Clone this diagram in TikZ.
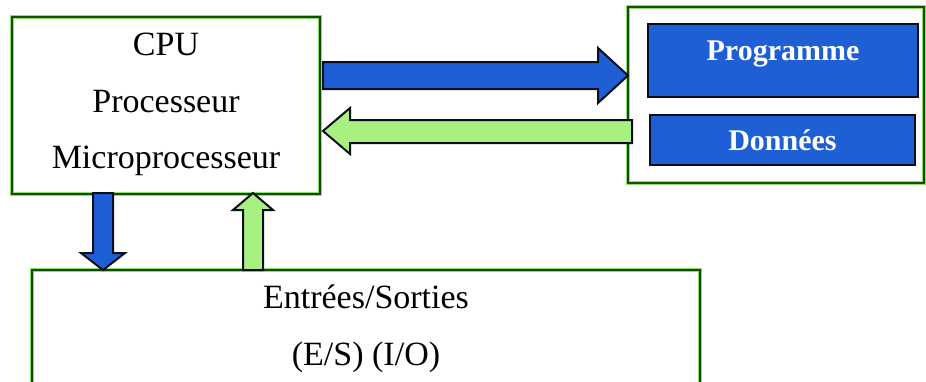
\documentclass[tikz,border=0pt]{standalone}
\usepackage{fontspec}
\setmainfont{Liberation Serif}
\definecolor{blueFill}{RGB}{31,95,214}
\definecolor{greenFill}{RGB}{168,240,128}
\definecolor{boxDark}{RGB}{22,72,14}
\definecolor{boxHalo}{RGB}{140,228,100}
\definecolor{edgeDark}{RGB}{8,14,30}
\begin{document}
\begin{tikzpicture}[x=1pt,y=-1pt,
  greenbox/.style={rectangle,draw=boxHalo,double=boxDark,double distance=2.2pt,line width=0.6pt,fill=white,inner sep=0pt},
  memitem/.style={rectangle,draw=edgeDark,line width=2pt,fill=blueFill,inner sep=0pt},
  bigtext/.style={font=\fontsize{34}{40}\selectfont,anchor=base,inner sep=0pt},
  memtext/.style={font=\fontsize{30}{36}\selectfont\bfseries,text=white,anchor=base,inner sep=0pt},
  bluearrow/.style={fill=blueFill,draw=edgeDark,line width=2pt,line join=miter},
  greenarrow/.style={fill=greenFill,draw=edgeDark,line width=2pt,line join=miter}]
\useasboundingbox (0,0) rectangle (926,381);
\clip (0,0) rectangle (926,381);
% boxes
\node[greenbox,minimum width=308pt,minimum height=177pt] (cpu) at (166,105.5) {};
\node[greenbox,minimum width=296pt,minimum height=176pt] (mem) at (776,95) {};
\node[memitem,minimum width=270pt,minimum height=73pt] (prog) at (783,60.5) {};
\node[memitem,minimum width=265pt,minimum height=50pt] (data) at (782.5,140) {};
\node[greenbox,minimum width=668pt,minimum height=200pt] (io) at (366,370) {};
% texts
\node[bigtext] (t1) at (166,55) {CPU};
\node[bigtext] (t2) at (166,112) {Processeur};
\node[bigtext] (t3) at (166,168) {Microprocesseur};
\node[memtext] (tp) at (783,60) {Programme};
\node[memtext] (td) at (782.5,150) {Données};
\node[bigtext] (te) at (366,308) {Entrées/Sorties};
\node[bigtext] (ts) at (366,365) {(E/S) (I/O)};
% block arrows
\draw[bluearrow] (323,62) -- (598,62) -- (598,48) -- (628,75.5) -- (598,103) -- (598,89) -- (323,89) -- cycle;
\draw[greenarrow] (632,120) -- (350,120) -- (350,108) -- (323,131) -- (350,154) -- (350,143) -- (632,143) -- cycle;
\draw[bluearrow] (93,193) -- (113,193) -- (113,253) -- (125,253) -- (103,270) -- (81,253) -- (93,253) -- cycle;
\draw[greenarrow] (243,270) -- (243,210) -- (233,210) -- (253,193) -- (273,210) -- (263,210) -- (263,270) -- cycle;
\end{tikzpicture}
\end{document}
